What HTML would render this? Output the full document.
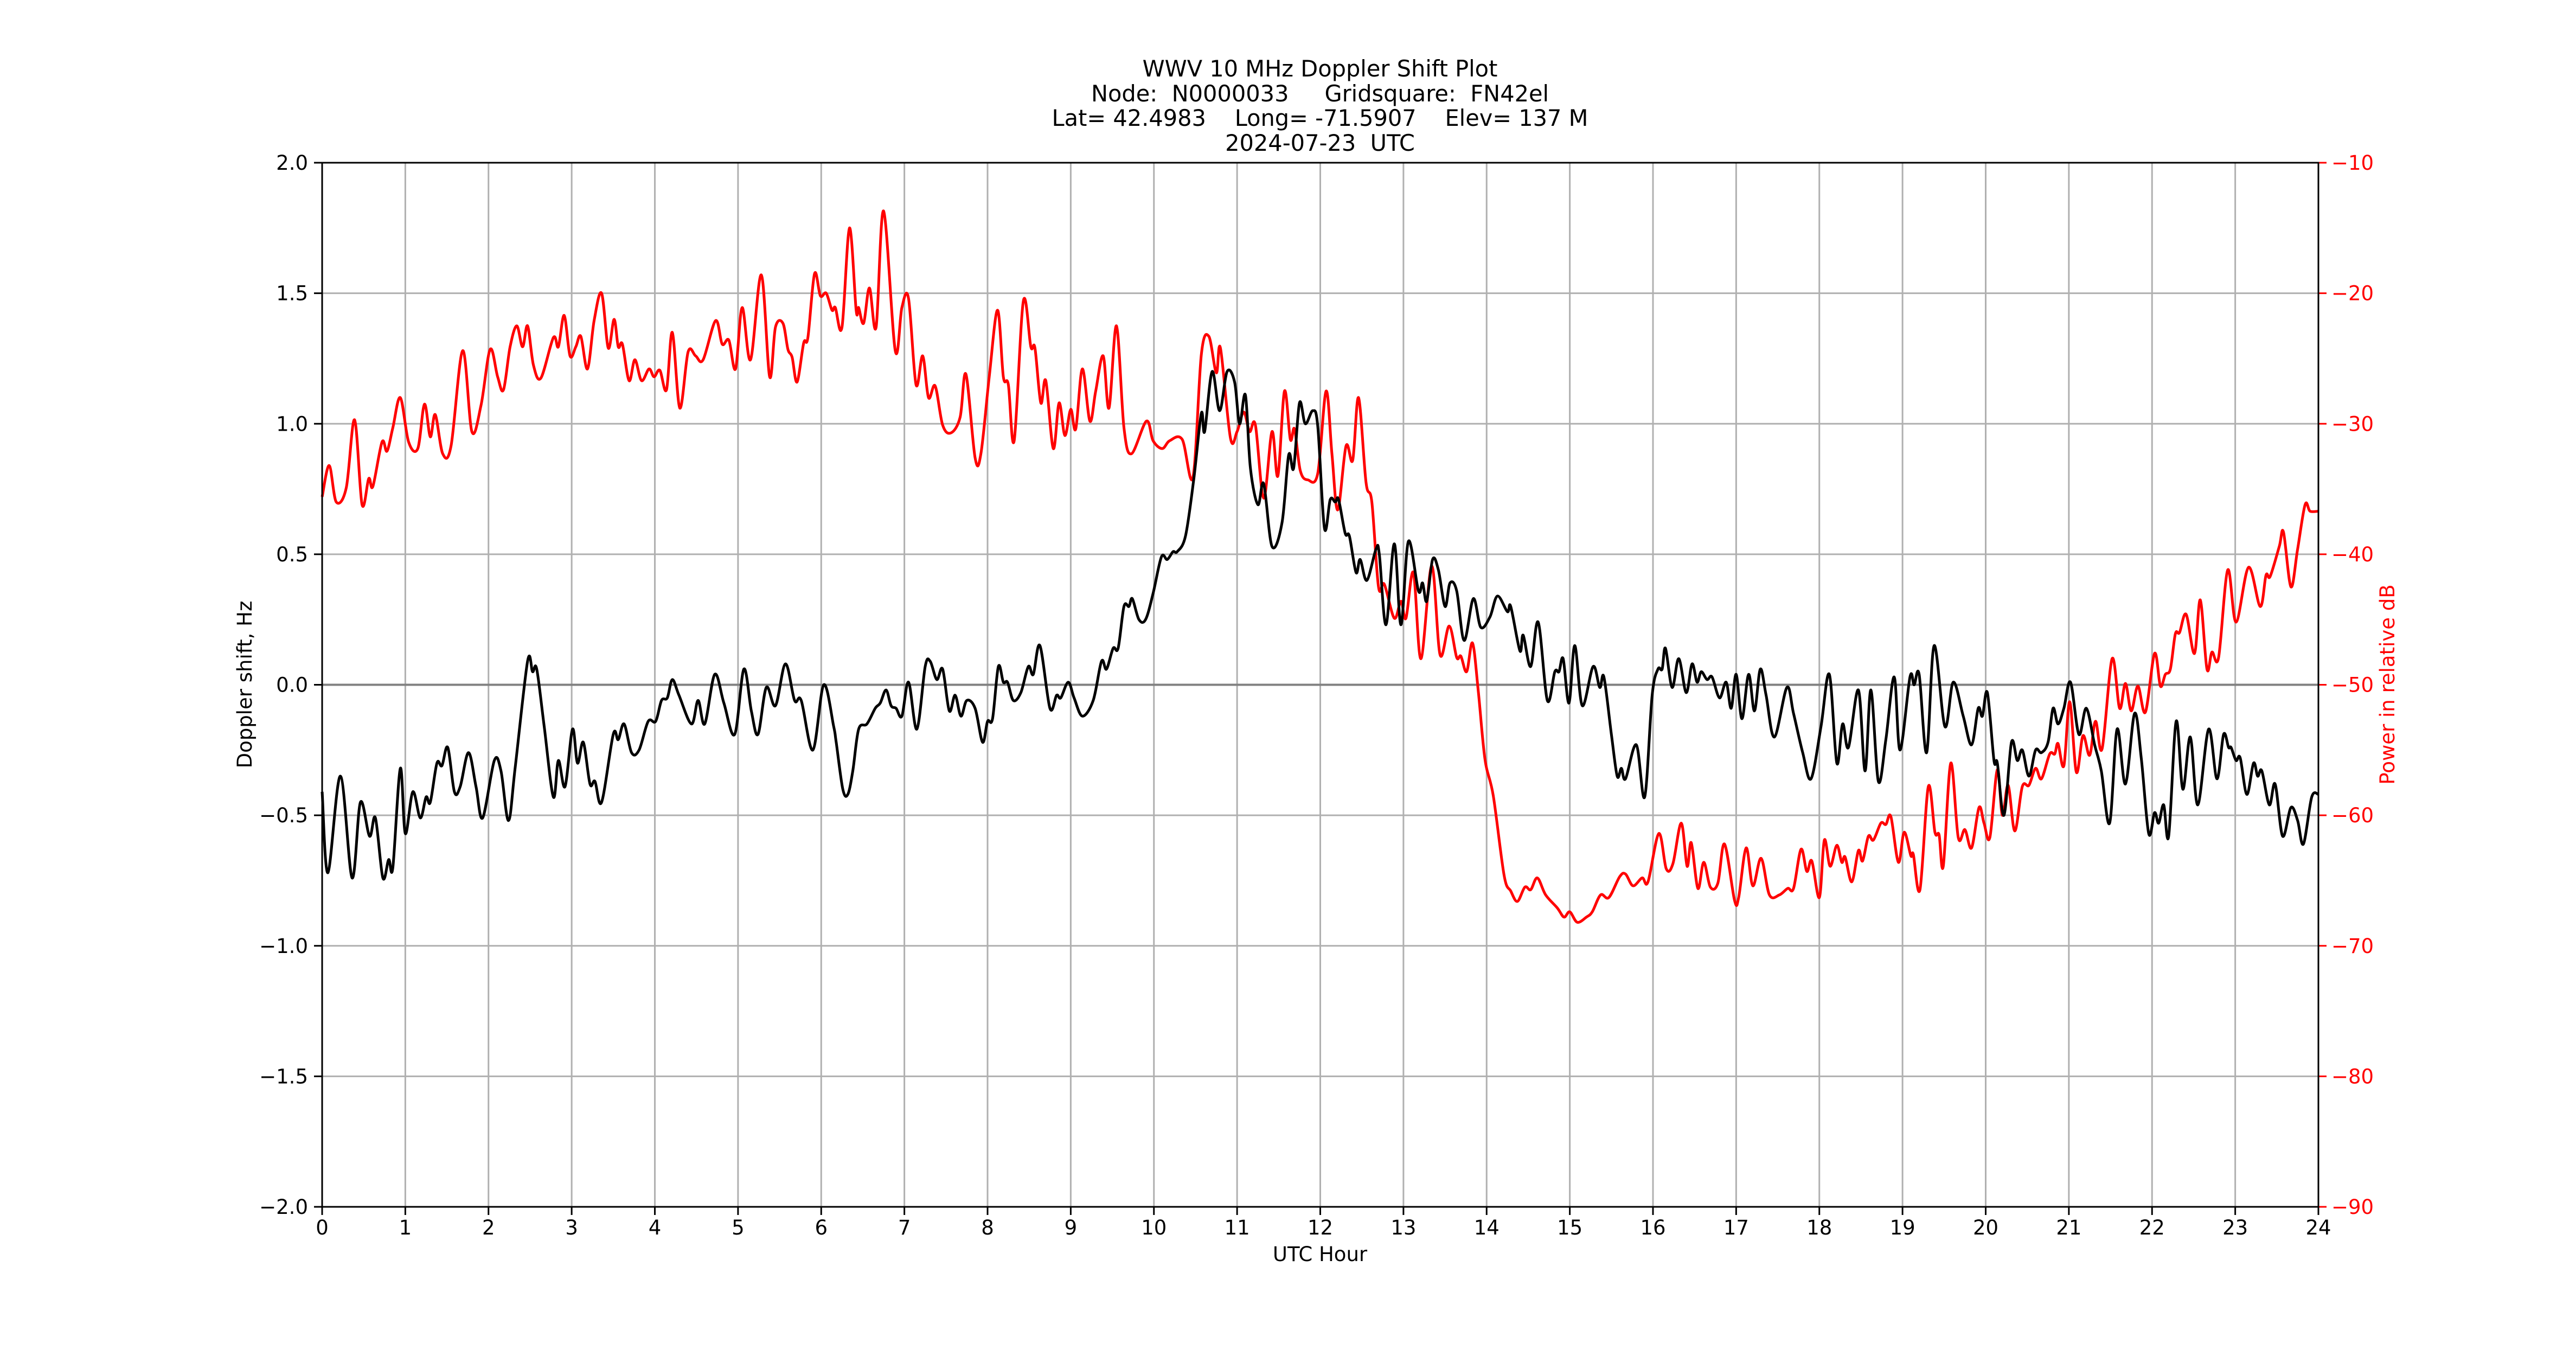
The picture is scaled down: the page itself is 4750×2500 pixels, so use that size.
<!DOCTYPE html>
<html><head><meta charset="utf-8"><style>
html,body{margin:0;padding:0;background:#fff;}
svg{display:block;}
text{font-family:"DejaVu Sans","Liberation Sans",sans-serif;}
</style></head><body>
<svg id="chart" width="4750" height="2500" viewBox="0 0 4750 2500" xmlns="http://www.w3.org/2000/svg">
<rect width="4750" height="2500" fill="#fff"/>
<g font-size="41.5" text-anchor="middle" fill="#000">
<text x="2434" y="141">WWV 10 MHz Doppler Shift Plot</text>
<text x="2434" y="187" xml:space="preserve">Node:  N0000033     Gridsquare:  FN42el</text>
<text x="2434" y="232" xml:space="preserve">Lat= 42.4983    Long= -71.5907    Elev= 137 M</text>
<text x="2434" y="278" xml:space="preserve">2024-07-23  UTC</text>
</g>
<g id="grid"></g>
<g id="series"></g>
<g id="axes"></g>
<text x="2434" y="2325" font-size="37" text-anchor="middle">UTC Hour</text>
<text transform="translate(464,1262) rotate(-90)" font-size="37" text-anchor="middle">Doppler shift, Hz</text>
<text transform="translate(4415,1262) rotate(-90)" font-size="37" text-anchor="middle" fill="#ff0000">Power in relative dB</text>
</svg>
<script>
const xTicks=[0,1,2,3,4,5,6,7,8,9,10,11,12,13,14,15,16,17,18,19,20,21,22,23,24];
const yTicks=[-2.0,-1.5,-1.0,-0.5,0.0,0.5,1.0,1.5,2.0];
const yTickLabels=["−2.0","−1.5","−1.0","−0.5","0.0","0.5","1.0","1.5","2.0"];
const y2Ticks=[-90,-80,-70,-60,-50,-40,-30,-20,-10];
const y2TickLabels=["−90","−80","−70","−60","−50","−40","−30","−20","−10"];

const dopplerHours=[0,0.07,0.22,0.36,0.46,0.57,0.64,0.73,0.8,0.85,0.94,1.0,1.09,1.18,1.25,1.3,1.38,1.44,1.51,1.59,1.66,1.76,1.85,1.93,2.07,2.15,2.24,2.32,2.47,2.53,2.58,2.67,2.78,2.84,2.92,3.01,3.07,3.14,3.22,3.28,3.36,3.5,3.56,3.63,3.72,3.81,3.92,4.01,4.08,4.15,4.21,4.29,4.44,4.52,4.6,4.72,4.83,4.96,5.07,5.16,5.24,5.34,5.45,5.57,5.68,5.76,5.9,6.03,6.15,6.18,6.26,6.32,6.38,6.45,6.55,6.65,6.71,6.78,6.84,6.9,6.97,7.05,7.15,7.25,7.31,7.39,7.46,7.54,7.61,7.68,7.75,7.85,7.94,8.0,8.06,8.13,8.19,8.24,8.31,8.4,8.49,8.55,8.63,8.75,8.83,8.88,8.97,9.04,9.14,9.27,9.37,9.43,9.51,9.57,9.64,9.7,9.74,9.82,9.9,9.99,10.09,10.16,10.23,10.28,10.38,10.48,10.57,10.61,10.7,10.79,10.88,10.97,11.03,11.1,11.16,11.25,11.32,11.42,11.54,11.62,11.68,11.75,11.82,11.91,11.97,12.05,12.12,12.18,12.22,12.3,12.35,12.43,12.48,12.56,12.67,12.71,12.79,12.89,12.97,13.06,13.18,13.23,13.28,13.35,13.42,13.5,13.56,13.64,13.73,13.84,13.93,14.04,14.13,14.25,14.29,14.4,14.44,14.53,14.62,14.73,14.82,14.87,14.92,14.99,15.06,15.15,15.28,15.36,15.41,15.5,15.57,15.62,15.67,15.8,15.9,15.99,16.06,16.11,16.15,16.23,16.31,16.4,16.47,16.53,16.58,16.65,16.71,16.8,16.88,16.94,17.0,17.07,17.15,17.22,17.29,17.36,17.46,17.61,17.69,17.8,17.9,18.02,18.12,18.21,18.28,18.35,18.47,18.55,18.62,18.71,18.8,18.9,18.97,19.09,19.14,19.2,19.29,19.38,19.51,19.61,19.73,19.83,19.91,19.96,20.02,20.1,20.14,20.22,20.31,20.38,20.44,20.52,20.6,20.67,20.75,20.81,20.87,20.94,21.02,21.12,21.21,21.31,21.39,21.49,21.58,21.68,21.79,21.87,21.96,22.03,22.08,22.14,22.2,22.29,22.37,22.46,22.55,22.68,22.78,22.86,22.92,22.95,23.01,23.06,23.14,23.22,23.27,23.32,23.41,23.48,23.57,23.67,23.75,23.82,23.92,24.0];
const dopplerHz=[-0.41,-0.72,-0.35,-0.74,-0.45,-0.58,-0.51,-0.74,-0.67,-0.70,-0.32,-0.57,-0.41,-0.51,-0.43,-0.45,-0.30,-0.31,-0.24,-0.41,-0.39,-0.26,-0.39,-0.51,-0.29,-0.33,-0.52,-0.32,0.09,0.05,0.06,-0.16,-0.43,-0.29,-0.39,-0.17,-0.30,-0.22,-0.38,-0.37,-0.45,-0.19,-0.21,-0.15,-0.26,-0.25,-0.14,-0.14,-0.06,-0.05,0.02,-0.04,-0.15,-0.06,-0.15,0.04,-0.07,-0.19,0.06,-0.10,-0.19,-0.01,-0.08,0.08,-0.06,-0.06,-0.25,0.0,-0.16,-0.22,-0.40,-0.42,-0.33,-0.17,-0.15,-0.09,-0.07,-0.02,-0.08,-0.09,-0.12,0.01,-0.17,0.07,0.09,0.02,0.06,-0.10,-0.04,-0.12,-0.06,-0.09,-0.22,-0.14,-0.13,0.07,0.01,0.01,-0.06,-0.03,0.07,0.04,0.15,-0.09,-0.04,-0.05,0.01,-0.05,-0.12,-0.06,0.09,0.06,0.14,0.14,0.30,0.30,0.33,0.25,0.25,0.35,0.49,0.48,0.51,0.51,0.57,0.79,1.04,0.97,1.20,1.05,1.20,1.16,1.00,1.11,0.83,0.69,0.77,0.53,0.62,0.88,0.83,1.08,1.00,1.05,0.99,0.60,0.71,0.70,0.71,0.58,0.57,0.43,0.48,0.40,0.52,0.50,0.23,0.54,0.23,0.55,0.36,0.39,0.32,0.48,0.44,0.30,0.39,0.36,0.17,0.33,0.22,0.26,0.34,0.28,0.30,0.13,0.19,0.07,0.24,-0.06,0.05,0.05,0.10,-0.07,0.15,-0.08,0.07,-0.01,0.03,-0.19,-0.35,-0.32,-0.36,-0.23,-0.43,-0.04,0.06,0.06,0.14,-0.01,0.10,-0.03,0.08,0.01,0.05,0.02,0.03,-0.05,0.01,-0.09,0.04,-0.13,0.04,-0.10,0.06,-0.04,-0.20,-0.01,-0.11,-0.26,-0.36,-0.16,0.04,-0.30,-0.15,-0.24,-0.02,-0.33,-0.02,-0.37,-0.21,0.03,-0.25,0.03,0.00,0.04,-0.26,0.15,-0.16,0.01,-0.12,-0.23,-0.09,-0.12,-0.03,-0.29,-0.30,-0.50,-0.22,-0.29,-0.25,-0.35,-0.25,-0.26,-0.22,-0.09,-0.15,-0.09,0.01,-0.19,-0.09,-0.23,-0.33,-0.53,-0.17,-0.38,-0.11,-0.28,-0.57,-0.49,-0.53,-0.46,-0.58,-0.14,-0.40,-0.20,-0.46,-0.17,-0.36,-0.19,-0.24,-0.24,-0.29,-0.28,-0.42,-0.30,-0.35,-0.33,-0.46,-0.38,-0.58,-0.47,-0.52,-0.61,-0.43,-0.42];

const powerHours=[0,0.085,0.17,0.29,0.39,0.48,0.56,0.61,0.72,0.78,0.85,0.94,1.04,1.15,1.23,1.3,1.36,1.45,1.55,1.69,1.8,1.91,2.02,2.11,2.18,2.26,2.34,2.41,2.47,2.54,2.63,2.78,2.84,2.91,2.98,3.05,3.11,3.19,3.27,3.36,3.44,3.51,3.56,3.61,3.69,3.76,3.84,3.93,3.99,4.06,4.14,4.21,4.3,4.4,4.49,4.58,4.73,4.81,4.89,4.97,5.05,5.15,5.28,5.38,5.45,5.54,5.6,5.65,5.71,5.79,5.84,5.92,5.99,6.06,6.13,6.17,6.25,6.34,6.42,6.45,6.51,6.58,6.66,6.75,6.89,6.97,7.05,7.14,7.22,7.29,7.37,7.46,7.56,7.67,7.74,7.85,7.92,8.02,8.12,8.19,8.25,8.32,8.43,8.52,8.57,8.64,8.7,8.79,8.86,8.93,9.0,9.06,9.14,9.23,9.3,9.39,9.46,9.55,9.64,9.73,9.91,9.99,10.1,10.19,10.34,10.47,10.57,10.66,10.75,10.8,10.92,11.0,11.08,11.15,11.22,11.32,11.42,11.49,11.57,11.64,11.69,11.76,11.85,11.97,12.07,12.14,12.21,12.31,12.39,12.46,12.55,12.62,12.7,12.77,12.89,12.97,13.03,13.12,13.21,13.34,13.44,13.55,13.64,13.69,13.76,13.83,13.9,13.98,14.08,14.21,14.29,14.37,14.46,14.53,14.61,14.71,14.85,14.93,15.0,15.09,15.2,15.27,15.37,15.47,15.6,15.67,15.76,15.87,15.94,16.07,16.16,16.24,16.34,16.41,16.46,16.54,16.61,16.69,16.78,16.86,16.98,17.03,17.12,17.2,17.3,17.4,17.52,17.62,17.69,17.78,17.85,17.91,18.0,18.06,18.13,18.21,18.27,18.31,18.39,18.47,18.52,18.59,18.65,18.74,18.8,18.86,18.95,19.02,19.1,19.13,19.21,19.31,19.39,19.44,19.49,19.58,19.67,19.75,19.83,19.92,19.98,20.05,20.14,20.2,20.27,20.35,20.44,20.52,20.6,20.67,20.77,20.83,20.87,20.94,21.01,21.09,21.17,21.25,21.32,21.4,21.52,21.61,21.68,21.75,21.83,21.92,22.03,22.1,22.16,22.22,22.28,22.33,22.41,22.51,22.58,22.66,22.72,22.8,22.91,23.01,23.16,23.3,23.37,23.42,23.53,23.58,23.67,23.75,23.84,23.9,24.0];
const powerDb=[-35.6,-33.2,-36.0,-34.9,-29.7,-36.2,-34.2,-34.8,-31.4,-32.1,-30.3,-28.0,-31.4,-31.9,-28.5,-31.0,-29.3,-32.3,-31.7,-24.4,-30.6,-28.6,-24.3,-26.4,-27.4,-24.1,-22.5,-24.1,-22.5,-25.5,-26.5,-23.4,-24.1,-21.7,-24.8,-24.1,-23.3,-25.8,-22.1,-20.0,-24.2,-22.0,-24.1,-23.9,-26.7,-25.1,-26.7,-25.8,-26.4,-25.9,-27.4,-23.0,-28.8,-24.5,-24.8,-25.1,-22.1,-23.9,-23.6,-25.8,-21.1,-25.1,-18.6,-26.4,-22.6,-22.3,-24.3,-24.9,-26.8,-23.8,-23.4,-18.5,-20.2,-20.0,-21.3,-21.1,-22.6,-15.0,-21.3,-21.1,-22.3,-19.6,-22.6,-13.7,-24.4,-21.1,-20.4,-27.0,-24.8,-28.0,-27.1,-30.1,-30.7,-29.5,-26.2,-32.6,-32.3,-26.4,-21.3,-26.4,-27.0,-31.3,-20.6,-24.1,-24.2,-28.4,-26.7,-31.9,-28.4,-30.9,-28.9,-30.4,-25.8,-29.8,-27.5,-24.8,-28.8,-22.5,-30.3,-32.3,-29.8,-31.3,-31.9,-31.3,-31.2,-34.1,-24.7,-23.3,-26.1,-24.2,-31.1,-30.6,-29.1,-30.6,-30.1,-35.7,-30.6,-34.0,-27.5,-31.2,-30.4,-33.6,-34.3,-33.8,-27.5,-32.3,-36.6,-31.7,-32.8,-28.0,-34.5,-36.0,-42.5,-42.3,-44.9,-43.6,-44.9,-41.4,-48.0,-40.9,-47.7,-45.5,-47.9,-47.8,-49.0,-46.8,-50.5,-55.7,-58.5,-64.6,-65.8,-66.6,-65.5,-65.7,-64.8,-66.1,-67.1,-67.8,-67.4,-68.2,-67.8,-67.4,-66.1,-66.3,-64.7,-64.5,-65.4,-64.8,-65.1,-61.4,-64.1,-63.7,-60.6,-63.9,-62.1,-65.6,-63.6,-65.5,-65.2,-62.2,-66.5,-66.3,-62.5,-65.4,-63.3,-66.1,-66.1,-65.6,-65.6,-62.6,-64.3,-63.5,-66.3,-61.9,-63.9,-62.3,-63.6,-63.2,-65.1,-62.7,-63.5,-61.6,-61.9,-60.6,-60.7,-60.1,-63.6,-61.3,-63.1,-63.0,-65.7,-57.8,-61.3,-61.5,-63.9,-56.0,-61.7,-61.1,-62.5,-59.4,-60.6,-61.7,-56.5,-60.0,-57.7,-61.2,-57.8,-57.7,-56.4,-57.2,-55.3,-55.3,-54.5,-56.2,-51.3,-56.7,-53.9,-55.4,-52.8,-54.9,-48.0,-51.8,-49.9,-52.0,-50.1,-52.1,-47.6,-50.1,-49.2,-48.8,-46.1,-46.0,-44.6,-47.6,-43.5,-48.8,-47.5,-47.9,-41.2,-45.2,-41.0,-44.0,-41.6,-41.7,-39.4,-38.3,-42.5,-39.6,-36.2,-36.7,-36.7];

const X0=594,X1=4275,YT=300,YB=2225;
const sx=h=>X0+(h-0)/(24-0)*(X1-X0);
const sy=v=>YB-(v-(-2))/(2-(-2))*(YB-YT);
const sy2=v=>YB-(v-(-90))/((-10)-(-90))*(YB-YT);
const NS="http://www.w3.org/2000/svg";
function mk(tag,attrs,parent){const e=document.createElementNS(NS,tag);for(const k in attrs)e.setAttribute(k,attrs[k]);parent.appendChild(e);return e;}
const grid=document.getElementById('grid'),axes=document.getElementById('axes'),series=document.getElementById('series');

xTicks.forEach(t=>{
  const l=mk('line',{x1:sx(t),x2:sx(t),y1:YT,y2:YB,stroke:'#b0b0b0','stroke-width':3},grid);
  
  
  const tk=mk('line',{x1:sx(t),x2:sx(t),y1:YB,y2:YB+15,stroke:'#000','stroke-width':3},axes);
  
  
  const tx=mk('text',{x:sx(t),y:YB+51,'font-size':37,'text-anchor':'middle'},axes);
  tx.textContent=String(t);
  
  
});
yTicks.forEach((t,i)=>{
  const l=mk('line',{x1:X0,x2:X1,y1:sy(t),y2:sy(t),stroke:'#b0b0b0','stroke-width':3},grid);
  
  
  const tk=mk('line',{x1:X0-15,x2:X0,y1:sy(t),y2:sy(t),stroke:'#000','stroke-width':3},axes);
  
  
  const tx=mk('text',{x:X0-26,y:sy(t)+13,'font-size':37,'text-anchor':'end'},axes);
  tx.textContent=yTickLabels[i];
  
  
});
y2Ticks.forEach((t,i)=>{
  const tk=mk('line',{x1:X1,x2:X1+15,y1:sy2(t),y2:sy2(t),stroke:'#ff0000','stroke-width':3},axes);
  
  
  const tx=mk('text',{x:X1+24,y:sy2(t)+13,'font-size':37,'text-anchor':'start',fill:'#ff0000'},axes);
  tx.textContent=y2TickLabels[i];
  
  
});
const zl=mk('line',{x1:X0,x2:X1,y1:sy(0),y2:sy(0),stroke:'#808080','stroke-width':4},grid);



function smoothPath(xs,ys){
  const p=xs.map((x,i)=>[x,ys[i]]);
  let d='M'+p[0][0].toFixed(1)+','+p[0][1].toFixed(1);
  for(let i=0;i<p.length-1;i++){
    const p0=p[Math.max(0,i-1)],p1=p[i],p2=p[i+1],p3=p[Math.min(p.length-1,i+2)];
    const c1x=p1[0]+(p2[0]-p0[0])/6,c1y=p1[1]+(p2[1]-p0[1])/6;
    const c2x=p2[0]-(p3[0]-p1[0])/6,c2y=p2[1]-(p3[1]-p1[1])/6;
    d+=' C'+c1x.toFixed(1)+','+c1y.toFixed(1)+' '+c2x.toFixed(1)+','+c2y.toFixed(1)+' '+p2[0].toFixed(1)+','+p2[1].toFixed(1);
  }
  return d;
}
const pw=mk('path',{d:smoothPath(powerHours.map(sx),powerDb.map(sy2)),fill:'none',stroke:'#ff0000','stroke-width':5,'stroke-linejoin':'round'},series);


const dp=mk('path',{d:smoothPath(dopplerHours.map(sx),dopplerHz.map(sy)),fill:'none',stroke:'#000','stroke-width':5,'stroke-linejoin':'round'},series);



const fr=mk('rect',{x:X0,y:YT,width:X1-X0,height:YB-YT,fill:'none',stroke:'#000','stroke-width':3},axes);


</script>
</body></html>
